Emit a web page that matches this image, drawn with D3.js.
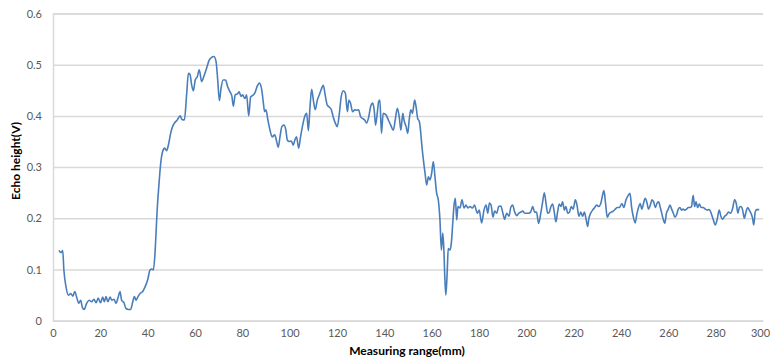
<!DOCTYPE html>
<html>
<head>
<meta charset="utf-8">
<script src="https://cdn.jsdelivr.net/npm/d3@7"></script>
<style>
  html, body { margin: 0; padding: 0; background: #fff; }
  svg { display: block; }
</style>
</head>
<body>
<svg id="chart" width="770" height="362"></svg>
<script>
// Measuring range (mm) of each sample
const rangeMm = [
  2.5, 3.4, 4.1, 4.6, 5.5, 6.5, 7.5, 8.4, 9.2, 10, 10.9, 11.7, 12.4, 13.2, 14.2, 15.3, 16.3, 17.3, 18.2, 19.1,
  20.1, 21, 21.7, 22.4, 23.2, 24.1, 24.9, 25.8, 26.6, 27.6, 28.3, 29, 30, 30.8, 31.8, 32.8, 33.7, 34.4, 35.1, 35.8,
  36.8, 37.9, 38.9, 40, 41, 41.8, 42.4, 43.1, 43.4, 43.8, 44.1, 44.8, 45.5, 46.3, 47.2, 48, 48.9, 49.7, 50.6, 51.5,
  52.5, 53.7, 54.5, 55.5, 56.5, 57.2, 57.9, 58.6, 59.3, 60.1, 61, 61.8, 62.8, 63.8, 64.9, 65.9, 66.9, 68, 68.9, 69.6,
  70.3, 71, 71.9, 72.9, 73.8, 74.8, 75.6, 76.2, 77, 77.9, 78.7, 79.4, 80.1, 81.1, 81.8, 82.7, 83.5, 84.4, 85.3, 86.3,
  87.2, 88.2, 88.9, 89.4, 90, 90.8, 91.7, 92.6, 93.7, 94.5, 95.2, 95.9, 96.7, 97.6, 98.4, 99, 99.8, 100.7, 101.5, 102.2,
  102.9, 103.8, 104.6, 105.5, 106.3, 107.2, 107.9, 108.6, 109.3, 110, 110.8, 111.7, 112.5, 113.3, 114.2, 115, 115.9, 116.8, 117.6, 118.4,
  119.3, 120.1, 121, 121.8, 122.7, 123.5, 124.4, 125, 125.7, 126.6, 127.5, 128.3, 129.1, 130, 130.8, 131.7, 132.5, 133.4, 134.2, 135.1,
  135.8, 136.3, 137, 137.6, 138.1, 138.8, 139.5, 140.7, 141.7, 142.7, 143.8, 144.6, 145.5, 146.3, 147, 147.8, 148.3, 149.2, 149.9, 150.5,
  151.2, 151.9, 152.8, 153.4, 154.1, 154.8, 155.4, 155.9, 156.5, 157.2, 157.9, 158.6, 159.3, 160, 160.7, 161.4, 162.1, 162.8, 163.5, 164.1,
  164.7, 165.1, 165.6, 166, 166.6, 167, 167.7, 168.3, 168.9, 169.4, 170, 170.6, 171.1, 172, 172.8, 173.7, 174.5, 175.3, 176.2, 177.3,
  178.1, 179.3, 180.1, 181.1, 182.1, 183, 183.7, 184.4, 185.1, 185.9, 186.6, 187.5, 188.3, 189.2, 190, 190.8, 191.7, 192.7, 193.4, 194.2,
  195.1, 196, 196.8, 197.6, 198.5, 199.3, 200.1, 201, 201.8, 202.7, 203.5, 204.3, 205.2, 206.1, 206.9, 207.6, 208.3, 209, 209.7, 210.4,
  211.1, 211.8, 212.5, 213.2, 213.9, 214.6, 215.3, 216.1, 216.7, 217.5, 218.2, 219, 219.8, 220.7, 221.4, 222.2, 223, 223.8, 224.5, 225.3,
  225.9, 226.4, 227.2, 228, 228.9, 229.7, 230.5, 231.4, 232.2, 232.8, 233.5, 234.2, 235.1, 235.9, 236.7, 237.6, 238.4, 239.3, 240.4, 241.2,
  242.1, 243.1, 243.8, 244.5, 245.2, 246, 246.7, 247.4, 248.1, 248.8, 249.5, 250.2, 250.9, 251.6, 252.4, 253.1, 253.8, 254.5, 255.2, 255.9,
  256.6, 257.2, 257.9, 258.5, 259.2, 260, 260.7, 261.4, 262.1, 262.8, 263.5, 264.2, 264.9, 265.6, 266.3, 267, 267.7, 268.4, 269.1, 269.8,
  270.5, 271.1, 271.7, 272.4, 273.1, 273.9, 274.7, 275.6, 276.4, 277.3, 278.1, 279, 279.8, 280.7, 281.5, 282.2, 282.9, 283.8, 284.6, 285.4,
  286.3, 287.1, 288, 288.7, 289.4, 290, 290.7, 291.4, 292.1, 292.8, 293.5, 294.2, 294.9, 295.6, 296.1, 296.7, 297.3, 298.4
];

// Echo height (V) at each sample
const echoV = [
  0.137, 0.133, 0.137, 0.099, 0.066, 0.050, 0.053, 0.048, 0.057, 0.046, 0.034, 0.040, 0.026, 0.022, 0.034, 0.040, 0.037, 0.042, 0.035, 0.044,
  0.035, 0.046, 0.037, 0.047, 0.037, 0.046, 0.040, 0.042, 0.034, 0.047, 0.057, 0.040, 0.035, 0.024, 0.022, 0.022, 0.037, 0.047, 0.040, 0.046,
  0.053, 0.057, 0.066, 0.080, 0.099, 0.101, 0.099, 0.132, 0.158, 0.197, 0.223, 0.268, 0.307, 0.330, 0.337, 0.332, 0.346, 0.366, 0.380, 0.387,
  0.392, 0.400, 0.393, 0.392, 0.444, 0.483, 0.481, 0.460, 0.449, 0.470, 0.477, 0.490, 0.467, 0.478, 0.493, 0.508, 0.514, 0.516, 0.506, 0.470,
  0.430, 0.454, 0.470, 0.470, 0.457, 0.447, 0.438, 0.419, 0.441, 0.443, 0.447, 0.438, 0.441, 0.434, 0.441, 0.400, 0.437, 0.440, 0.445, 0.458,
  0.464, 0.451, 0.425, 0.408, 0.412, 0.392, 0.372, 0.359, 0.363, 0.350, 0.339, 0.359, 0.379, 0.382, 0.372, 0.353, 0.350, 0.351, 0.343, 0.353,
  0.359, 0.337, 0.359, 0.382, 0.398, 0.405, 0.371, 0.418, 0.452, 0.431, 0.412, 0.431, 0.441, 0.451, 0.460, 0.441, 0.421, 0.417, 0.412, 0.398,
  0.386, 0.379, 0.405, 0.438, 0.449, 0.445, 0.408, 0.431, 0.425, 0.408, 0.412, 0.411, 0.412, 0.398, 0.395, 0.392, 0.386, 0.398, 0.418, 0.425,
  0.408, 0.382, 0.405, 0.428, 0.431, 0.366, 0.405, 0.402, 0.392, 0.382, 0.372, 0.392, 0.415, 0.398, 0.372, 0.405, 0.392, 0.379, 0.366, 0.392,
  0.412, 0.405, 0.431, 0.418, 0.395, 0.389, 0.366, 0.340, 0.314, 0.288, 0.265, 0.281, 0.275, 0.288, 0.311, 0.281, 0.249, 0.236, 0.197, 0.138,
  0.171, 0.145, 0.080, 0.050, 0.099, 0.141, 0.138, 0.151, 0.190, 0.223, 0.239, 0.197, 0.223, 0.220, 0.236, 0.220, 0.226, 0.220, 0.223, 0.220,
  0.226, 0.210, 0.216, 0.191, 0.216, 0.226, 0.210, 0.230, 0.226, 0.202, 0.214, 0.210, 0.223, 0.224, 0.212, 0.198, 0.210, 0.204, 0.221, 0.226,
  0.212, 0.205, 0.210, 0.212, 0.214, 0.210, 0.210, 0.210, 0.212, 0.223, 0.212, 0.212, 0.190, 0.210, 0.232, 0.250, 0.230, 0.210, 0.212, 0.223,
  0.228, 0.212, 0.193, 0.212, 0.228, 0.223, 0.232, 0.216, 0.223, 0.210, 0.212, 0.223, 0.218, 0.236, 0.226, 0.204, 0.212, 0.204, 0.212, 0.197,
  0.184, 0.199, 0.210, 0.216, 0.221, 0.226, 0.223, 0.228, 0.245, 0.254, 0.228, 0.202, 0.210, 0.212, 0.214, 0.218, 0.221, 0.221, 0.229, 0.221,
  0.236, 0.245, 0.249, 0.221, 0.203, 0.191, 0.208, 0.221, 0.229, 0.218, 0.229, 0.239, 0.232, 0.218, 0.226, 0.236, 0.232, 0.221, 0.229, 0.232,
  0.221, 0.210, 0.197, 0.190, 0.210, 0.218, 0.226, 0.218, 0.210, 0.202, 0.207, 0.218, 0.221, 0.216, 0.218, 0.216, 0.218, 0.221, 0.221, 0.223,
  0.245, 0.223, 0.232, 0.221, 0.228, 0.221, 0.221, 0.218, 0.216, 0.217, 0.210, 0.197, 0.187, 0.199, 0.216, 0.204, 0.198, 0.204, 0.207, 0.212,
  0.210, 0.218, 0.236, 0.229, 0.210, 0.221, 0.223, 0.216, 0.200, 0.212, 0.221, 0.216, 0.210, 0.200, 0.187, 0.212, 0.217, 0.217
];

// Axis ticks
const xTicks = [0, 20, 40, 60, 80, 100, 120, 140, 160, 180, 200, 220, 240, 260, 280, 300];
const yTicks = [0, 0.1, 0.2, 0.3, 0.4, 0.5, 0.6];

const xTitle = "Measuring range(mm)";
const yTitle = "Echo height(V)";

const svg = d3.select("#chart");
const margin = { left: 53, right: 7, top: 13.5, bottom: 41.3 };
const W = 770, H = 362;

const x = d3.scaleLinear().domain([0, 300]).range([margin.left, W - margin.right]);
const y = d3.scaleLinear().domain([0, 0.6]).range([H - margin.bottom, margin.top]);

const font = "Lato, 'Open Sans', 'Liberation Sans', sans-serif";

// Horizontal gridlines
const yAxis = d3.axisLeft(y).tickValues(yTicks)
  .tickSize(-(x.range()[1] - x.range()[0]))
  .tickPadding(11)
  .tickFormat(d => d === 0 ? "0" : d3.format(".1f")(d));

const gy = svg.append("g")
  .attr("transform", `translate(${margin.left},0)`)
  .call(yAxis);
gy.select(".domain").attr("stroke", "#d9d9d9").attr("stroke-width", 1.5);
gy.selectAll(".tick line").attr("stroke", "#d9d9d9").attr("stroke-width", 1.5);
gy.selectAll(".tick text")
  .attr("fill", "#595959")
  .style("font-family", font)
  .style("font-size", "11px");

// Bottom axis with labels only
const xAxis = d3.axisBottom(x).tickValues(xTicks).tickSize(0).tickPadding(9);
const gx = svg.append("g")
  .attr("transform", `translate(0,${y(0)})`)
  .call(xAxis);
gx.select(".domain").attr("stroke", "#d9d9d9").attr("stroke-width", 1.5);
gx.selectAll(".tick text")
  .attr("fill", "#595959")
  .style("font-family", font)
  .style("font-size", "11px");
// keep the last label inside the frame
gx.selectAll(".tick text").filter(d => d === 300).attr("dx", -3);

// Echo height trace
const pts = rangeMm.map((r, i) => [r, echoV[i]]);
const line = d3.line()
  .x(d => x(d[0]))
  .y(d => y(d[1]))
  .curve(d3.curveMonotoneX);

svg.append("path")
  .datum(pts)
  .attr("fill", "none")
  .attr("stroke", "#4a7ebb")
  .attr("stroke-width", 1.6)
  .attr("stroke-linejoin", "round")
  .attr("d", line);

// Axis titles
svg.append("text")
  .attr("x", 407)
  .attr("y", 355)
  .attr("text-anchor", "middle")
  .style("font-family", font)
  .style("font-weight", "bold")
  .style("font-size", "12px")
  .attr("fill", "#000")
  .text(xTitle);

svg.append("text")
  .attr("transform", "translate(20,161) rotate(-90)")
  .attr("text-anchor", "middle")
  .style("font-family", font)
  .style("font-weight", "bold")
  .style("font-size", "12px")
  .attr("fill", "#000")
  .text(yTitle);
</script>
</body>
</html>
